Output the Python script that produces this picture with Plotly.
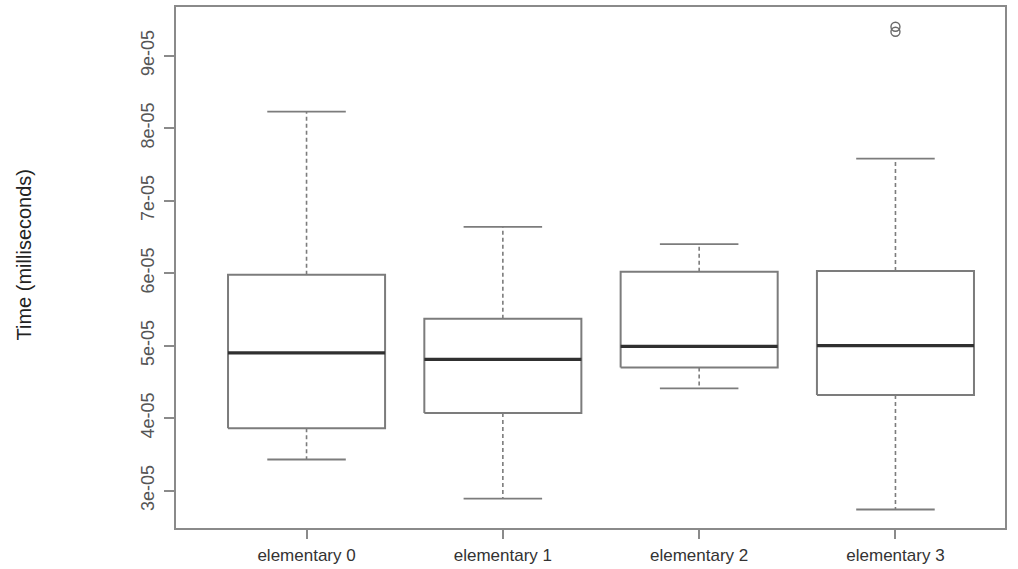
import plotly.graph_objects as go

# Timing summary per implementation (values shown in e-notation)
categories = ["elementary 0", "elementary 1", "elementary 2", "elementary 3"]
lower_whisker = [3.43e-05, 2.89e-05, 4.41e-05, 2.74e-05]
q1 = [3.86e-05, 4.07e-05, 4.70e-05, 4.32e-05]
median = [4.90e-05, 4.81e-05, 4.99e-05, 5.00e-05]
q3 = [5.98e-05, 5.37e-05, 6.02e-05, 6.03e-05]
upper_whisker = [8.23e-05, 6.64e-05, 6.40e-05, 7.58e-05]
outlier_group = [4, 4]
outlier_value = [9.40e-05, 9.33e-05]

tick_values = [3e-05, 4e-05, 5e-05, 6e-05, 7e-05, 8e-05, 9e-05]
tick_text = ["3e-05", "4e-05", "5e-05", "6e-05", "7e-05", "8e-05", "9e-05"]

BOX_HALF = 0.4
CAP_HALF = 0.2
LINE = "#7c7c7c"
MED = "#303030"

fig = go.Figure()

for i, name in enumerate(categories):
    x = i + 1
    # whiskers (dashed) from box edges to caps
    fig.add_trace(go.Scatter(
        x=[x, x, None, x, x],
        y=[q3[i], upper_whisker[i], None, q1[i], lower_whisker[i]],
        mode="lines", line=dict(color=LINE, width=1.6, dash="4px,3px"),
        hoverinfo="skip", showlegend=False))
    # caps
    fig.add_trace(go.Scatter(
        x=[x - CAP_HALF, x + CAP_HALF, None, x - CAP_HALF, x + CAP_HALF],
        y=[upper_whisker[i], upper_whisker[i], None, lower_whisker[i], lower_whisker[i]],
        mode="lines", line=dict(color=LINE, width=1.8),
        hoverinfo="skip", showlegend=False))
    # box
    fig.add_trace(go.Scatter(
        x=[x - BOX_HALF, x + BOX_HALF, x + BOX_HALF, x - BOX_HALF, x - BOX_HALF],
        y=[q1[i], q1[i], q3[i], q3[i], q1[i]],
        mode="lines", line=dict(color=LINE, width=2),
        name=name, showlegend=False))
    # median
    fig.add_trace(go.Scatter(
        x=[x - BOX_HALF, x + BOX_HALF],
        y=[median[i], median[i]],
        mode="lines", line=dict(color=MED, width=3.2),
        hoverinfo="skip", showlegend=False))

# outliers
fig.add_trace(go.Scatter(
    x=outlier_group, y=outlier_value, mode="markers",
    marker=dict(symbol="circle-open", size=9, color="#6a6a6a", line=dict(width=1.4)),
    showlegend=False))

fig.update_layout(
    width=1018, height=569,
    margin=dict(l=176, r=13, t=7, b=41, autoexpand=False),
    paper_bgcolor="white", plot_bgcolor="white",
    font=dict(family="Liberation Sans, Arial, sans-serif", color="#444444"),
    xaxis=dict(
        range=[0.335, 4.558], tickmode="array",
        tickvals=[1, 2, 3, 4], ticktext=categories,
        showgrid=False, zeroline=False, automargin=False,
        showline=True, linecolor="#8a8a8a", linewidth=2, mirror=True,
        ticks="outside", ticklen=9, tickcolor="#8a8a8a", tickwidth=1.5,
        tickfont=dict(size=17, color="#333333"), ticklabelstandoff=2),
    yaxis=dict(
        range=[2.485e-05, 9.672e-05], tickmode="array",
        tickvals=tick_values, ticktext=tick_text, tickangle=-90,
        showgrid=False, zeroline=False, automargin=False,
        showline=True, linecolor="#8a8a8a", linewidth=2, mirror=True,
        ticks="outside", ticklen=10, tickcolor="#8a8a8a", tickwidth=1.5,
        tickfont=dict(size=18, color="#555555"), ticklabelstandoff=3),
    annotations=[dict(
        text="Time (milliseconds)", textangle=-90,
        xref="paper", yref="paper", x=(24 - 176) / 829, y=0.525,
        xanchor="center", yanchor="middle", showarrow=False,
        font=dict(size=20, color="#222222"))],
)

fig.write_html("out.html")
